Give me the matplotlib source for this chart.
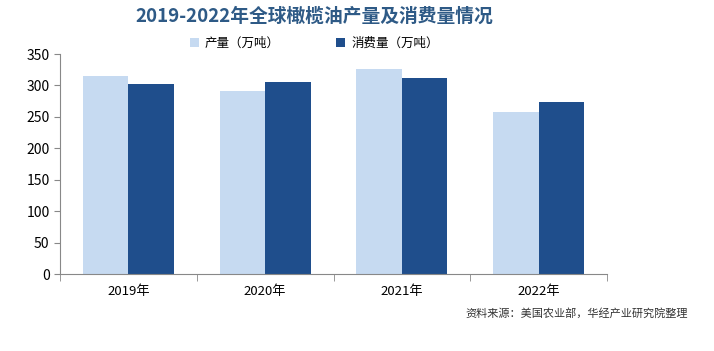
import matplotlib.pyplot as plt
import numpy as np

plt.rcParams['font.family'] = ['Noto Sans CJK SC', 'DejaVu Sans']

years = ['2019年', '2020年', '2021年', '2022年']
production = [315, 291, 326, 257]
consumption = [303, 306, 312, 274]

fig = plt.figure(figsize=(7.14, 3.51), dpi=100)
ax = fig.add_axes([60 / 714, 1 - 274 / 351, 547 / 714, 220 / 351])

x = np.arange(len(years))
w = 0.333
ax.bar(x - w / 2, production, w, color='#c6daf1', label='产量（万吨）')
ax.bar(x + w / 2, consumption, w, color='#1f4e8c', label='消费量（万吨）')

ax.set_xlim(-0.5, len(years) - 0.5)
ax.set_ylim(0, 350)
ax.set_yticks(np.arange(0, 351, 50))
ax.set_xticks(x)
ax.set_xticklabels(years, fontsize=9.5)
ax.set_xticks(np.arange(-0.5, len(years), 1), minor=True)
ax.tick_params(axis='x', which='major', length=0, pad=8)
ax.tick_params(axis='x', which='minor', length=5, color='#888888')
ax.tick_params(axis='y', length=4, color='#888888', labelsize=10)
for s in ['top', 'right']:
    ax.spines[s].set_visible(False)
for s in ['left', 'bottom']:
    ax.spines[s].set_color('#888888')

fig.text(0.44, 0.955, '2019-2022年全球橄榄油产量及消费量情况', ha='center', va='center',
         fontsize=13.5, fontweight='bold', color='#2e5a86')
fig.legend(loc='center', bbox_to_anchor=(0.44, 1 - 43 / 351), ncol=2, frameon=False,
           fontsize=9, handlelength=0.7, handleheight=0.7, columnspacing=4.5,
           handletextpad=0.5)
fig.text(688 / 714, 1 - 313 / 351, '资料来源：美国农业部，华经产业研究院整理', ha='right',
         va='center', fontsize=8, color='#333333')

fig.savefig('out.png', dpi=100)
